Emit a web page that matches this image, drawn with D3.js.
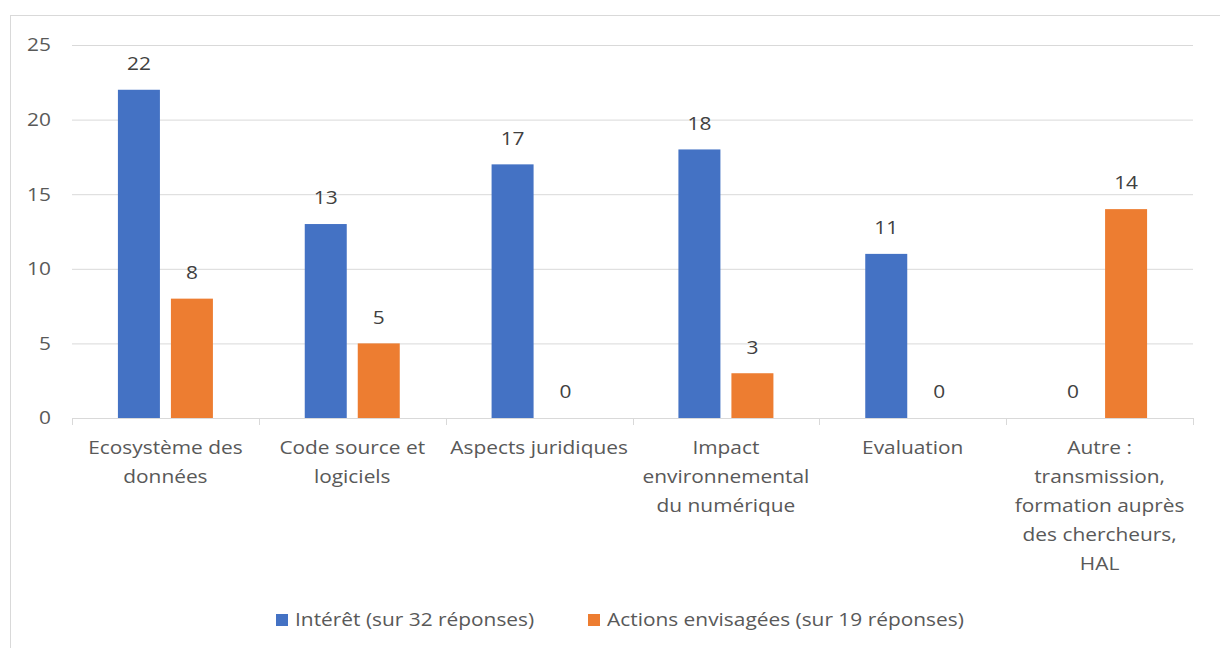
<!DOCTYPE html>
<html><head><meta charset="utf-8">
<script src="https://cdn.jsdelivr.net/npm/d3@7"></script>
<style>body{margin:0;background:#fff}svg{display:block}text{font-family:"Open Sans","Noto Sans",sans-serif}</style>
</head><body><svg id="c" width="1220" height="648"></svg>
<script>
const categories = [
  ["Ecosystème des","données"],
  ["Code source et","logiciels"],
  ["Aspects juridiques"],
  ["Impact","environnemental","du numérique"],
  ["Evaluation"],
  ["Autre :","transmission,","formation auprès","des chercheurs,","HAL"]
];
const seriesNames = ["Intérêt (sur 32 réponses)","Actions envisagées (sur 19 réponses)"];
const interet = [22,13,17,18,11,0];
const actions = [8,5,0,3,0,14];
const yTicks = [0,5,10,15,20,25];
const colors = ["#4472c4","#ed7d31"];

const SX = 1.16;
function label(parent, x, y, lines, anchor, fill, lh){
  const g = parent.append("g").attr("transform",`translate(${x},${y}) scale(${SX},1)`);
  const t = g.append("text").attr("text-anchor",anchor).attr("font-size",18).attr("fill",fill);
  lines.forEach((l,k)=>t.append("tspan").attr("x",0).attr("y",k*(lh||0)).attr("dy","0.35em").text(l));
  return g;
}

const svg = d3.select("#c");
svg.append("rect").attr("x",10.5).attr("y",15.5).attr("width",1230).attr("height",700)
  .attr("fill","none").attr("stroke","#d9d9d9");

const x0 = d3.scaleBand().domain(d3.range(categories.length)).range([72,1193]).padding(0);
const bw = x0.bandwidth();
const gw = 95;
const x1 = d3.scaleBand().domain([0,1]).range([(bw-gw)/2,(bw+gw)/2]).paddingInner(0.2075);
const y = d3.scaleLinear().domain([0,25]).range([418,45]);

// gridlines
svg.append("g").selectAll("line").data(yTicks.filter(d=>d>0)).join("line")
  .attr("x1",72).attr("x2",1193).attr("y1",d=>y(d)+0.5).attr("y2",d=>y(d)+0.5)
  .attr("stroke","#d9d9d9").attr("stroke-width",1);

// y labels
const yl = svg.append("g");
yTicks.forEach(d=>label(yl,51,y(d),[String(d)],"end","#595959"));

// bars
const g = svg.append("g");
categories.forEach((c,i)=>{
  [interet[i],actions[i]].forEach((v,s)=>{
    const bx = x0(i)+x1(s);
    if(v>0) g.append("rect").attr("x",bx).attr("y",y(v)).attr("width",x1.bandwidth())
      .attr("height",y(0)-y(v)).attr("fill",colors[s]);
    label(g,bx+x1.bandwidth()/2,y(v)-26,[String(v)],"middle","#404040");
  });
});

// x axis
const ax = svg.append("g");
ax.append("line").attr("x1",72).attr("x2",1193).attr("y1",418.5).attr("y2",418.5).attr("stroke","#d9d9d9");
ax.selectAll("line.t").data(d3.range(categories.length+1)).join("line").attr("class","t")
  .attr("x1",i=>Math.round(72+i*bw)+0.5).attr("x2",i=>Math.round(72+i*bw)+0.5)
  .attr("y1",418).attr("y2",425).attr("stroke","#d9d9d9");
categories.forEach((lines,i)=>label(ax,x0(i)+bw/2,448,lines,"middle","#595959",29));

// legend
const leg = svg.append("g");
const legX = [276,588];
seriesNames.forEach((n,s)=>{
  leg.append("rect").attr("x",legX[s]).attr("y",614).attr("width",12).attr("height",12).attr("fill",colors[s]);
  label(leg,legX[s]+19,620,[n],"start","#595959");
});
</script></body></html>
